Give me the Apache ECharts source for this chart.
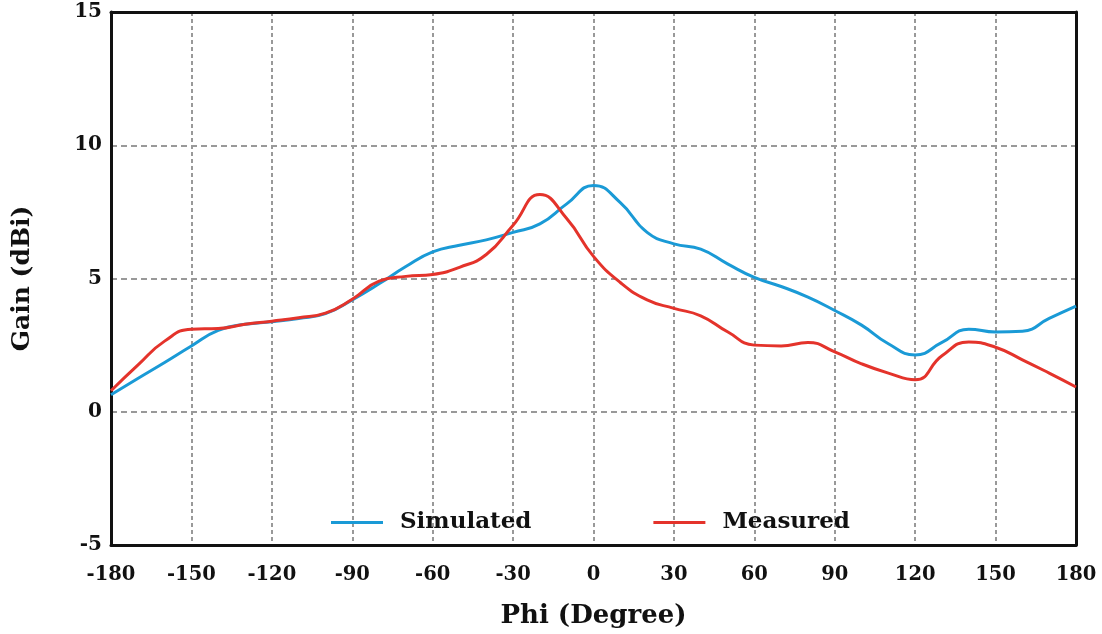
<!DOCTYPE html>
<html>
<head>
<meta charset="utf-8">
<script src="https://cdn.jsdelivr.net/npm/echarts@6/dist/echarts.min.js"></script>
<style>html,body{margin:0;padding:0;background:#fff;}#c{width:1102px;height:634px;}</style>
</head>
<body>
<div id="c"></div>
<script>
const xTicks = [-180,-150,-120,-90,-60,-30,0,30,60,90,120,150,180];
const phi = [-180,-170,-160,-150,-140,-130,-120,-110,-100,-90,-80,-70,-60,-50,-40,-30,-20,-10,0,10,20,30,40,50,60,70,80,90,100,110,120,130,140,150,160,170,180];
const simGain = [0.64,1.25,1.85,2.47,3.05,3.28,3.38,3.5,3.68,4.2,4.8,5.45,6.0,6.25,6.45,6.73,7.05,7.8,8.49,7.85,6.73,6.3,6.1,5.55,5.04,4.7,4.3,3.8,3.25,2.55,2.13,2.6,3.1,2.99,3.02,3.5,3.96];
const measGain = [0.79,1.75,2.65,3.1,3.12,3.28,3.4,3.53,3.7,4.22,4.9,5.08,5.15,5.42,5.9,7.0,8.15,7.25,5.83,4.85,4.2,3.88,3.6,3.0,2.5,2.47,2.6,2.25,1.8,1.45,1.2,2.1,2.62,2.42,1.95,1.45,0.93];

const pair = (xs, ys) => xs.map((x, i) => [x, ys[i]]);
const font = '"DejaVu Serif","Liberation Serif",serif';
const chart = echarts.init(document.getElementById('c'), null, {renderer: 'canvas'});
const frameX = {type: 'value', position: 'top', min: -180, max: 180, interval: 30,
  axisLine: {show: true, onZero: false, lineStyle: {color: '#111', width: 3}},
  axisTick: {show: false}, axisLabel: {show: false}, splitLine: {show: false}};
const frameY = {type: 'value', position: 'right', min: -5, max: 15, interval: 5,
  axisLine: {show: true, onZero: false, lineStyle: {color: '#111', width: 3}},
  axisTick: {show: false}, axisLabel: {show: false}, splitLine: {show: false}};
chart.setOption({
  backgroundColor: '#ffffff',
  animation: false,
  grid: {left: 111, right: 26, top: 12, bottom: 86},
  legend: {
    left: 326, top: 506, icon: 'rect', itemWidth: 52, itemHeight: 3, itemGap: 122,
    textStyle: {fontFamily: font, fontWeight: 'bold', fontSize: 23, color: '#111', padding: [0,0,0,12]},
    data: ['Simulated', 'Measured']
  },
  xAxis: [{
    type: 'value', min: -180, max: 180, interval: 30,
    name: 'Phi (Degree)', nameLocation: 'middle', nameGap: 58,
    nameTextStyle: {fontFamily: font, fontWeight: 'bold', fontSize: 26, color: '#111'},
    axisLine: {show: true, onZero: false, lineStyle: {color: '#111', width: 3}},
    axisTick: {show: false},
    axisLabel: {fontFamily: font, fontWeight: 'bold', fontSize: 19.5, color: '#111', margin: 20,
      formatter: v => xTicks.includes(v) ? String(v) : ''},
    splitLine: {show: true, lineStyle: {color: '#999', type: [4, 3], width: 2}}
  }, frameX],
  yAxis: [{
    type: 'value', min: -5, max: 15, interval: 5,
    name: 'Gain (dBi)', nameLocation: 'middle', nameGap: 76, nameRotate: 90,
    nameTextStyle: {fontFamily: font, fontWeight: 'bold', fontSize: 25, color: '#111'},
    axisLine: {show: true, onZero: false, lineStyle: {color: '#111', width: 3}},
    axisTick: {show: false},
    axisLabel: {fontFamily: font, fontWeight: 'bold', fontSize: 20, color: '#111', margin: 9, padding: [9, 0, 0, 0]},
    splitLine: {show: true, lineStyle: {color: '#999', type: [6, 4], width: 2}}
  }, frameY],
  series: [
    {name: 'Simulated', type: 'line', data: pair(phi, simGain), smooth: 0.5, symbol: 'none',
      lineStyle: {color: '#1a9ad6', width: 3}, itemStyle: {color: '#1a9ad6'}},
    {name: 'Measured', type: 'line', data: pair(phi, measGain), smooth: 0.5, symbol: 'none',
      lineStyle: {color: '#e4332b', width: 3}, itemStyle: {color: '#e4332b'}}
  ]
});
</script>
</body>
</html>
